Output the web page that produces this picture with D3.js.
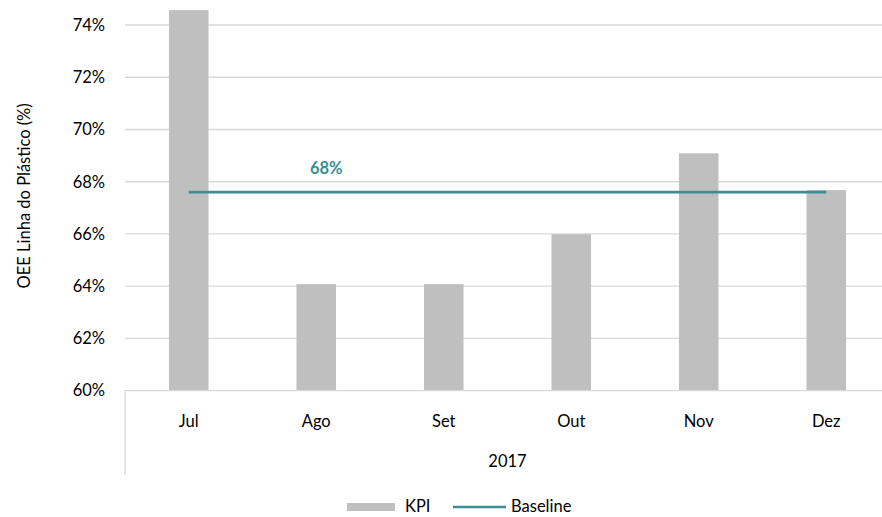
<!DOCTYPE html>
<html><head><meta charset="utf-8">
<script src="https://cdn.jsdelivr.net/npm/d3@7"></script>
<style>body{margin:0;background:#fff}svg{display:block}text{font-family:Lato,"Open Sans",sans-serif;fill:#000}</style>
</head><body><svg id="c" width="882" height="517"></svg>
<script>
const months = ["Jul","Ago","Set","Out","Nov","Dez"];
const kpi = [74.57, 64.08, 64.08, 65.99, 69.09, 67.68];
const baseline = [67.6, 67.6, 67.6, 67.6, 67.6, 67.6];
const baselineLabel = "68%";
const yTicks = [60, 62, 64, 66, 68, 70, 72, 74];
const yearLabel = "2017";
const yTitle = "OEE Linha do Plástico (%)";

const svg = d3.select("#c");
const L = 125, R = 890, T = 25, B = 390.7;
const FS = 16.5;
const x = d3.scaleBand().domain(months).range([L, R]).paddingInner(0.69).paddingOuter(0.345);
const y = d3.scaleLinear().domain([60, 74]).range([B, T]);

const gray = "#bfbfbf", grid = "#d9d9d9", teal = "#3b8f95";

// gridlines
svg.append("g").selectAll("line").data(yTicks.filter(d => d > 60)).join("line")
  .attr("x1", L).attr("x2", R).attr("y1", d => y(d)).attr("y2", d => y(d))
  .attr("stroke", grid).attr("stroke-width", 1.3);

// y tick labels
const yAxis = d3.axisLeft(y).tickValues(yTicks).tickFormat(d => d + "%").tickSize(0).tickPadding(20);
const ga = svg.append("g").attr("transform", `translate(${L},0)`).call(yAxis);
ga.select(".domain").remove();
ga.selectAll("text").attr("font-size", FS).attr("font-family", "Lato,sans-serif").attr("fill", "#000");

// bars
svg.append("g").selectAll("rect").data(kpi).join("rect")
  .attr("x", (d, i) => x(months[i])).attr("width", x.bandwidth())
  .attr("y", d => y(d)).attr("height", d => B - y(d)).attr("fill", gray);

// category axis
svg.append("line").attr("x1", L).attr("x2", R).attr("y1", B).attr("y2", B).attr("stroke", grid).attr("stroke-width", 1.3);
svg.append("line").attr("x1", L).attr("x2", L).attr("y1", B).attr("y2", 475).attr("stroke", grid).attr("stroke-width", 1.3);
svg.append("g").selectAll("text").data(months).join("text")
  .attr("x", d => x(d) + x.bandwidth() / 2).attr("y", 427).attr("text-anchor", "middle")
  .attr("font-size", FS).text(d => d);
svg.append("text").attr("x", (L + R) / 2).attr("y", 467).attr("text-anchor", "middle").attr("font-size", FS).text(yearLabel);

// baseline
const line = d3.line().x((d, i) => x(months[i]) + x.bandwidth() / 2).y(d => y(d));
svg.append("path").datum(baseline).attr("d", line).attr("fill", "none").attr("stroke", teal).attr("stroke-width", 2.8);
svg.append("text").attr("x", x(months[1]) + x.bandwidth() / 2 + 10).attr("y", 174).attr("text-anchor", "middle")
  .attr("font-size", FS).attr("font-weight", "bold").style("fill", teal).text(baselineLabel);

// y title
svg.append("text").attr("transform", `translate(30,${(T + B) / 2 - 12}) rotate(-90)`).attr("text-anchor", "middle")
  .attr("font-size", FS).text(yTitle);

// legend
const lg = svg.append("g");
lg.append("rect").attr("x", 347).attr("y", 503).attr("width", 48).attr("height", 8).attr("fill", gray);
lg.append("text").attr("x", 405).attr("y", 512).attr("font-size", FS).text("KPI");
lg.append("line").attr("x1", 453).attr("x2", 506).attr("y1", 507).attr("y2", 507).attr("stroke", teal).attr("stroke-width", 2.5);
lg.append("text").attr("x", 511).attr("y", 512).attr("font-size", FS).text("Baseline");
</script></body></html>
